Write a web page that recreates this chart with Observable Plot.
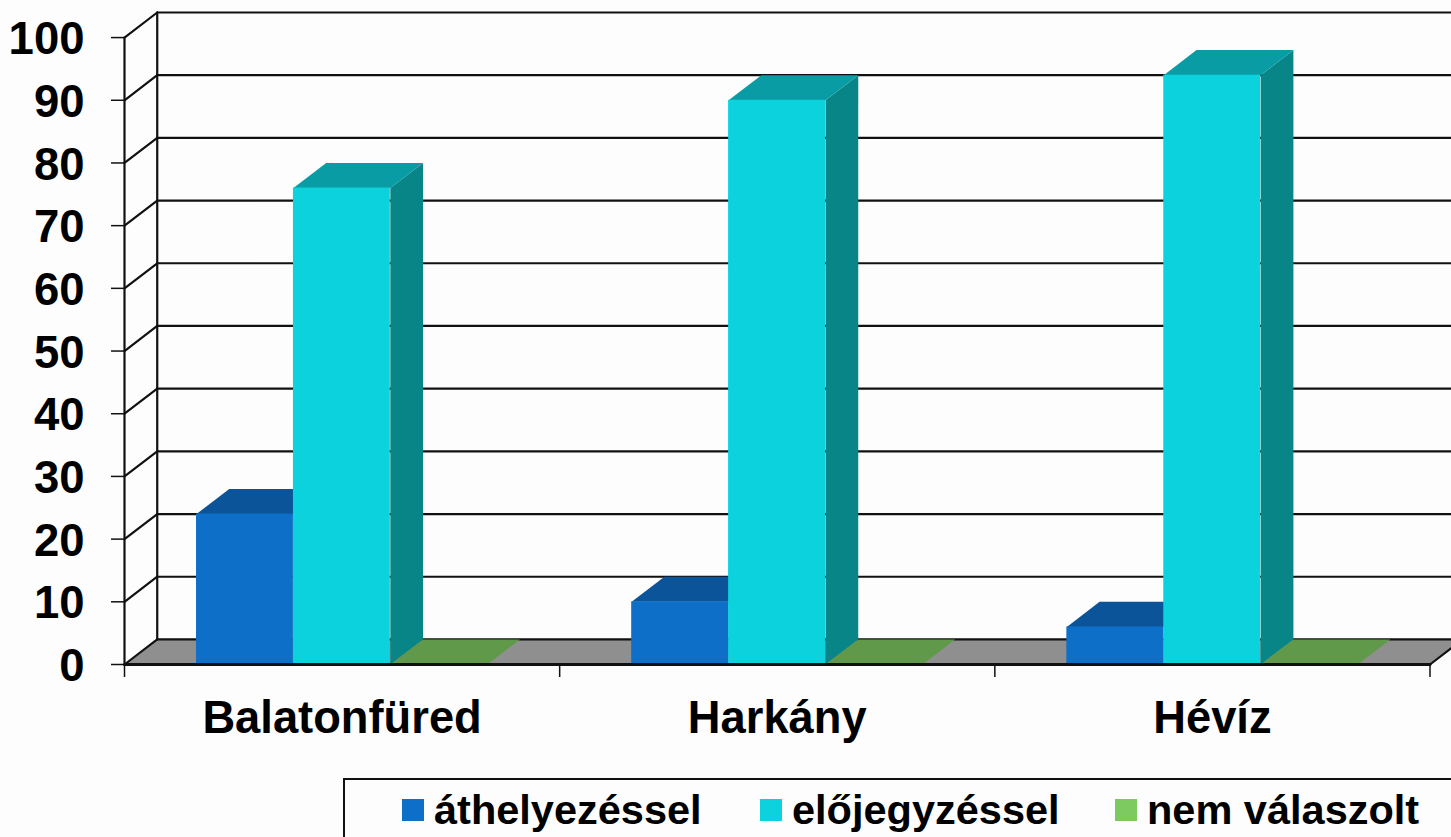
<!DOCTYPE html>
<html>
<head>
<meta charset="utf-8">
<script src="https://cdn.jsdelivr.net/npm/d3@7"></script>
<script src="https://cdn.jsdelivr.net/npm/@observablehq/plot@0.6"></script>
<style>
html,body{margin:0;padding:0;background:#fdfdfd;overflow:hidden;width:1451px;height:837px}
svg{display:block;background:transparent}
#legend{position:absolute;left:343px;top:778px;width:1108px;height:59px;box-sizing:border-box;border-top:2px solid #111;border-left:2px solid #111;font:bold 41.5px "Liberation Sans",Arial,sans-serif;color:#000}
#legend div{position:absolute;top:0;height:57px;white-space:nowrap}
#legend i{position:absolute;left:0;top:19px;width:22px;height:22px}
#legend span{position:absolute;left:32px;top:8px;line-height:44px}
</style>
</head>
<body>
<div id="chart"></div>
<div id="legend"></div>
<script>
const categories = ["Balatonfüred", "Harkány", "Hévíz"];
const series = ["áthelyezéssel", "előjegyzéssel", "nem válaszolt"];
const athelyezessel = [24, 10, 6];
const elojegyzessel = [76, 90, 94];
const nemValaszolt = [0, 0, 0];
const yTicks = [0, 10, 20, 30, 40, 50, 60, 70, 80, 90, 100];
const frontColors = ["#0e6fc8", "#0bd2dc", "#7dcb60"];
const topColors = ["#0b5499", "#0a9ca5", "#60994a"];
const sideColors = ["#094f8f", "#088587", "#4e7d3c"];
const floorColor = "#8f8f8f";
const inkColor = "#111";

// layout of the pseudo-3D box, in data units
const depthX = 0.0752, depthY = 4;
const barWidth = 0.2227, groupInset = 0.1655;
const seriesValues = [athelyezessel, elojegyzessel, nemValaszolt];

const poly = (pts, fill) => Plot.line(pts.map(([x, y]) => ({x, y})), {x: "x", y: "y", fill, stroke: "none"});
const seg = (x1, y1, x2, y2, strokeWidth = 2.2) =>
  Plot.line([{x: x1, y: y1}, {x: x2, y: y2}], {x: "x", y: "y", stroke: inkColor, strokeWidth});

const xMax = 3.0494;
const marks = [];

// floor
marks.push(poly([[0, 0], [3, 0], [3 + depthX, depthY], [depthX, depthY]], floorColor));

// back wall gridlines and side wall lines
for (const v of yTicks) {
  marks.push(seg(depthX, v + depthY, 3 + depthX, v + depthY));
  marks.push(seg(0, v, depthX, v + depthY));
}
marks.push(seg(depthX, depthY, depthX, 100 + depthY));
marks.push(seg(0, 0, 0, 100));
marks.push(seg(3, 0, 3 + depthX, depthY));

// bars, back-to-front within each group
categories.forEach((c, i) => {
  seriesValues.forEach((vals, s) => {
    const x0 = i + groupInset + s * barWidth, x1 = x0 + barWidth, v = vals[i];
    marks.push(poly([[x1, 0], [x1 + depthX, depthY], [x1 + depthX, v + depthY], [x1, v]], sideColors[s]));
    marks.push(poly([[x0, v], [x1, v], [x1 + depthX, v + depthY], [x0 + depthX, v + depthY]], topColors[s]));
    if (v > 0) marks.push(Plot.rect([{x0, x1, v}], {x1: "x0", x2: "x1", y1: 0, y2: "v", fill: frontColors[s], inset: 0}));
  });
});

// bottom axis line
marks.push(seg(0, 0, 3, 0, 3));

const chart = Plot.plot({
  width: 1451,
  height: 778,
  marginLeft: 124,
  marginRight: 0,
  marginTop: 12,
  marginBottom: 114,
  style: {background: "transparent", fontFamily: "Liberation Sans, Arial, sans-serif", overflow: "hidden"},
  x: {domain: [0, xMax], axis: null},
  y: {domain: [0, 104], axis: null},
  marks: [
    ...marks,
    Plot.axisY({ticks: yTicks, tickSize: 13, tickFormat: () => "", stroke: inkColor, strokeWidth: 1.5, label: null, marginLeft: 124}),
    Plot.text(yTicks, {x: 0, y: d => d, text: d => String(d), textAnchor: "end", dx: -40, dy: 2, fontSize: 45.5, fontWeight: "bold", fill: "#000"}),
    Plot.axisX({ticks: [0, 1, 2, 3], tickSize: 13, tickFormat: () => "", stroke: inkColor, strokeWidth: 1.5, label: null}),
    Plot.text(categories, {x: (d, i) => i + 0.5, y: 0, text: d => d, dy: 54, fontSize: 45.3, fontWeight: "bold", fill: "#000"})
  ]
});
document.getElementById("chart").appendChild(chart);

const legendLefts = [57, 415, 770];
const legend = document.getElementById("legend");
series.forEach((s, i) => {
  const item = document.createElement("div");
  item.style.left = legendLefts[i] + "px";
  const sw = document.createElement("i");
  sw.style.background = frontColors[i];
  const t = document.createElement("span");
  t.textContent = s;
  item.append(sw, t);
  legend.appendChild(item);
});
</script>
</body>
</html>
